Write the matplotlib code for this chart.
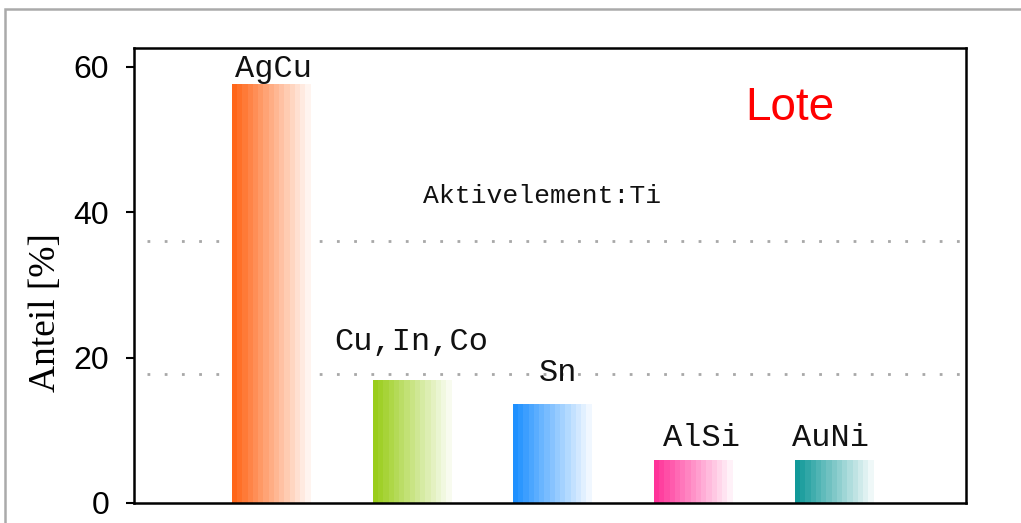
import matplotlib
matplotlib.use("Agg")
import matplotlib.pyplot as plt
import numpy as np
from matplotlib.colors import to_rgb
from matplotlib.patches import Rectangle

# share of each solder base, percent
categories = ["AgCu", "Cu,In,Co", "Sn", "AlSi", "AuNi"]
shares = [57.6, 16.9, 13.6, 5.9, 5.9]
bar_colors = ["#ff6619", "#9acd1a", "#1e90ff", "#ff3399", "#119999"]
reference_levels = [36.0, 17.7]
yticks = [0, 20, 40, 60]

BAR_WIDTH = 0.59
N_BANDS = 16
label_offsets = [2.1, 5.2, 4.3, 3.0, 3.0]
label_shifts = [-0.0, -0.02, 0.02, 0.04, -0.04]

fig = plt.figure(figsize=(10.21, 5.23), dpi=100)
fig.patch.set_facecolor("white")

# grey frame around the whole chart (top and left edge visible)
fig.add_artist(Rectangle((5 / 1021, -0.2), 1.2, 1.2 - 10 / 523 + 0.001,
                         transform=fig.transFigure, fill=False,
                         edgecolor="#aaaaaa", linewidth=1.8))

ax = fig.add_axes([134 / 1021, 1 - 503 / 523, 832 / 1021, 455 / 523])
ax.set_xlim(-0.99, 4.92)
ax.set_ylim(0, 62.6)

for level in reference_levels:
    ax.plot([-0.9, 4.92], [level, level], color="#a8a8a8", linewidth=2.0,
            linestyle=(0, (1, 5.2)), zorder=1)

# bars fade from full colour at the left edge to white at the right edge
for i, (value, color) in enumerate(zip(shares, bar_colors)):
    base = np.array(to_rgb(color))
    t = np.linspace(0, 1, N_BANDS)[None, :, None]
    band = base * (1 - t) + t
    x0 = i - BAR_WIDTH / 2
    ax.imshow(band, extent=(x0, x0 + BAR_WIDTH, 0, value), aspect="auto",
              interpolation="nearest", zorder=2)

for i, (name, value) in enumerate(zip(categories, shares)):
    ax.text(i + label_shifts[i], value + label_offsets[i], name,
            family="Liberation Mono", fontsize=23, ha="center", va="center",
            color="#111111", zorder=3)

ax.text(1.91, 42.2, "Aktivelement:Ti", family="Liberation Mono", fontsize=19,
        ha="center", va="center", color="#111111")
ax.text(3.67, 54.3, "Lote", family="Liberation Sans", fontsize=33,
        ha="center", va="center", color="#ff0000")

ax.set_xticks([])
ax.set_yticks(yticks)
ax.set_yticklabels([str(v) for v in yticks], family="Liberation Sans", fontsize=23)
ax.tick_params(axis="y", direction="out", length=6, width=1.5, pad=12, colors="black")
for spine in ax.spines.values():
    spine.set_linewidth(1.8)
    spine.set_color("black")

ax.set_ylabel("Anteil [%]", family="Liberation Serif", fontsize=27)
ax.yaxis.set_label_coords(-0.085, 0.418)

fig.savefig("out.png", dpi=100, facecolor="white")
